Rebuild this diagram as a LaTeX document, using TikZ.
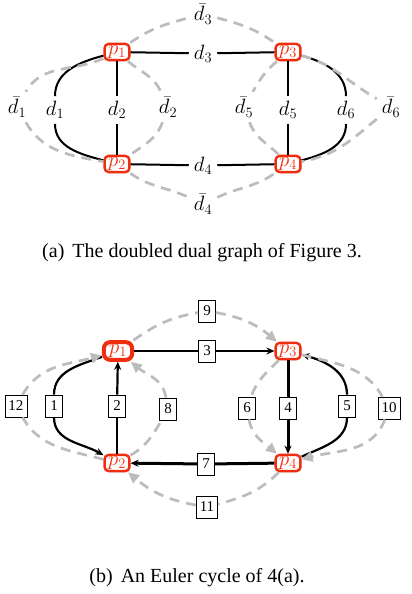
\documentclass[tikz,border=0pt]{standalone}
\usepackage[no-math]{fontspec}
\setmainfont{Liberation Serif}
\usetikzlibrary{arrows.meta,shadows}
\definecolor{pred}{RGB}{240,45,15}
\definecolor{dgray}{RGB}{188,188,188}
\begin{document}
\begin{tikzpicture}[x=1pt,y=1pt,
 pn/.style={draw=pred, line width=2.4pt, fill=white, rounded corners=4pt, text=pred, inner xsep=3.5pt, inner ysep=1.6pt, font=\huge,
   drop shadow={shadow xshift=1.2pt, shadow yshift=-1.2pt, fill=black!22}},
 pnb/.style={pn, line width=4pt, rounded corners=6pt, inner xsep=5.2pt, inner ysep=2.3pt},
 lbl/.style={inner xsep=5pt, inner ysep=5pt, font=\huge},
 bx/.style={draw, line width=0.8pt, fill=white, minimum width=17pt, minimum height=22pt, inner xsep=3.5pt, inner ysep=0pt, font=\fontsize{15}{18}\selectfont},
 blk/.style={line width=2pt},
 blkm/.style={line width=2.2pt},
 blkt/.style={line width=3pt},
 gd/.style={draw=dgray, line width=2.7pt, dash pattern=on 10pt off 7pt},
 arrb/.style={-{Stealth[length=8pt,width=7pt]}},
 arrg/.style={-{Triangle[length=11pt,width=10pt]}},
 captxt/.style={font=\fontsize{20}{24}\selectfont}
]
\useasboundingbox (0,0) rectangle (412,-594);

% ---------- (a) ----------
\node[pn] (a1) at (117,-52) {$p_1$};
\node[pn] (a2) at (117,-164) {$p_2$};
\node[pn] (a3) at (288,-52) {$p_3$};
\node[pn] (a4) at (288,-164) {$p_4$};
\node[lbl] (ad3) at (203,-53.5) {$d_3$};
\node[lbl] (ad4) at (203,-165.5) {$d_4$};
\node[lbl] (ad1) at (55,-110) {$d_1$};
\node[lbl] (ad2) at (117,-110) {$d_2$};
\node[lbl] (ad5) at (288,-110) {$d_5$};
\node[lbl] (ad6) at (346,-110) {$d_6$};
\node[lbl] (ab1) at (17,-107) {$\bar d_1$};
\node[lbl] (ab2) at (168,-107) {$\bar d_2$};
\node[lbl] (ab3) at (203,-14) {$\bar d_3$};
\node[lbl] (ab4) at (203,-204) {$\bar d_4$};
\node[lbl] (ab5) at (244,-107) {$\bar d_5$};
\node[lbl] (ab6) at (391,-107) {$\bar d_6$};

\draw[blk] (a1) -- (ad3); \draw[blk] (ad3) -- (a3);
\draw[blk] (a2) -- (ad4); \draw[blk] (ad4) -- (a4);
\draw[blk] (a1) -- (ad2); \draw[blk] (ad2) -- (a2);
\draw[blk] (a3) -- (ad5); \draw[blk] (ad5) -- (a4);
\draw[blk] (a1) to[out=195,in=90] (ad1); \draw[blk] (ad1) to[out=-90,in=165] (a2);
\draw[blk] (a3) to[out=-15,in=90] (ad6); \draw[blk] (ad6) to[out=-90,in=15] (a4);

\draw[gd] (a1) to[out=205,in=60] (ab1); \draw[gd] (ab1) to[out=-60,in=170] (a2);
\draw[gd] (a1) to[out=-40,in=115] (ab2); \draw[gd] (ab2) to[out=-110,in=35] (a2);
\draw[gd] (a1) to[out=35,in=195] (ab3); \draw[gd] (ab3) to[out=-15,in=145] (a3);
\draw[gd] (a2) to[out=-35,in=155] (ab4); \draw[gd] (ab4) to[out=25,in=-145] (a4);
\draw[gd] (a3) to[out=220,in=60] (ab5); \draw[gd] (ab5) to[out=-70,in=135] (a4);
\draw[gd] (a3) to[out=-15,in=150] (ab6); \draw[gd] (ab6) to[out=-140,in=10] (a4);

\node[captxt] (capa) at (202,-253) {(a)\hspace{8pt}The doubled dual graph of Figure 3.};

% ---------- (b) ----------
\node[pnb] (b1) at (118,-351) {$p_1$};
\node[pn] (b2) at (117,-463) {$p_2$};
\node[pn] (b3) at (288,-351) {$p_3$};
\node[pn] (b4) at (288,-463) {$p_4$};

\node[bx] (n3) at (207,-351) {3};
\node[bx] (n9) at (207,-311) {9};
\node[bx] (n7) at (206,-464) {7};
\node[bx] (n11) at (207,-507) {11};
\node[bx] (n12) at (16,-406) {12};
\node[bx] (n1) at (54,-406) {1};
\node[bx] (n2) at (117,-406) {2};
\node[bx] (n8) at (168,-409) {8};
\node[bx] (n6) at (247,-408) {6};
\node[bx] (n4) at (288,-408) {4};
\node[bx] (n5) at (347,-406) {5};
\node[bx] (n10) at (389,-408) {10};

\draw[blkm] (b1) -- (n3); \draw[blkm,arrb] (n3) -- (b3);
\draw[blkt] (b3) -- (n4); \draw[blkt,arrb] (n4) -- (b4);
\draw[blkt] (b4) -- (n7); \draw[blkt,arrb] (n7) -- (b2);
\draw[blkm] (b2) -- (n2); \draw[blkm,arrb] (n2) -- (b1);
\draw[blkm] (b1) to[out=200,in=90] (n1); \draw[blkm,arrb] (n1) to[out=-90,in=150] (b2);
\draw[blkm] (b4) to[out=25,in=-90] (n5); \draw[blkm,arrb] (n5) to[out=90,in=-15] (b3);

\draw[gd] (b1) to[out=35,in=190] (n9); \draw[gd,arrg] (n9) to[out=-10,in=140] (b3);
\draw[gd] (b2) to[out=165,in=-60] (n12); \draw[gd,arrg] (n12) to[out=60,in=195] (b1);
\draw[gd] (b2) to[out=30,in=-120] (n8); \draw[gd,arrg] (n8) to[out=100,in=-40] (b1);
\draw[gd] (b3) to[out=-135,in=70] (n6); \draw[gd,arrg] (n6) to[out=-80,in=140] (b4);
\draw[gd] (b3) to[out=-15,in=120] (n10); \draw[gd,arrg] (n10) to[out=-110,in=15] (b4);
\draw[gd] (b4) to[out=-135,in=15] (n11); \draw[gd,arrg] (n11) to[out=170,in=-40] (b2);

\node[captxt] (capb) at (197,-578) {(b)\hspace{8pt}An Euler cycle of 4(a).};
\end{tikzpicture}
\end{document}
